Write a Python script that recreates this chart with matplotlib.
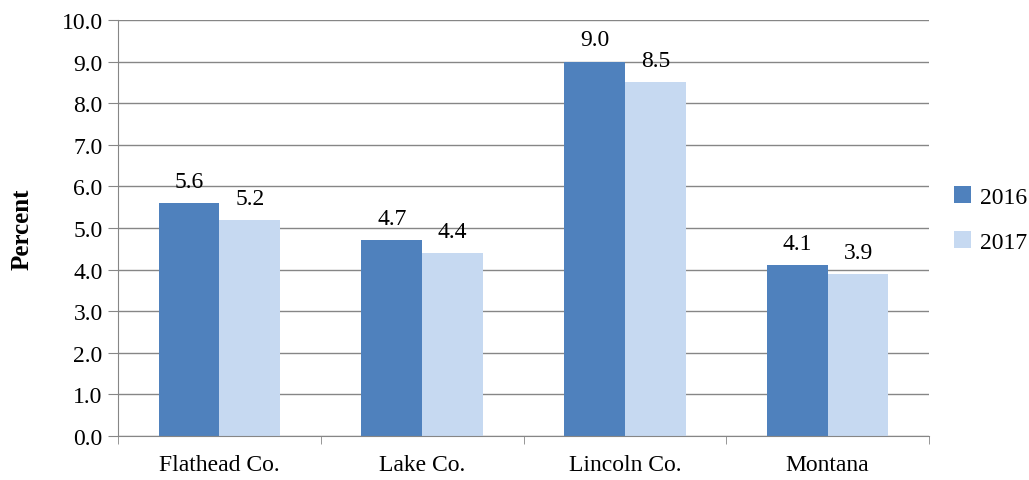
import matplotlib.pyplot as plt
import numpy as np

categories = ["Flathead Co.", "Lake Co.", "Lincoln Co.", "Montana"]
years = ["2016", "2017"]
pct_2016 = [5.6, 4.7, 9.0, 4.1]
pct_2017 = [5.2, 4.4, 8.5, 3.9]

plt.rcParams["font.family"] = ["Liberation Serif", "DejaVu Serif"]

fig = plt.figure(figsize=(10.29, 4.81), dpi=100)
ax = fig.add_axes([118 / 1029, 1 - 437 / 481, (929 - 118) / 1029, (437 - 21) / 481])

x = np.arange(len(categories))
width = 0.3
b1 = ax.bar(x - width / 2, pct_2016, width, color="#4F81BD", label=years[0], zorder=2)
b2 = ax.bar(x + width / 2, pct_2017, width, color="#C6D9F1", label=years[1], zorder=2)
ax.bar_label(b1, fmt="%.1f", padding=8, fontsize=17)
ax.bar_label(b2, fmt="%.1f", padding=8, fontsize=17)

ax.set_xlim(-0.5, len(categories) - 0.5)
ax.set_ylim(0, 10)
ax.set_yticks(np.arange(0, 10.1, 1))
ax.set_yticklabels([f"{v:.1f}" for v in np.arange(0, 10.1, 1)], fontsize=17)
ax.set_xticks(x)
ax.set_xticklabels(categories, fontsize=17)
ax.tick_params(axis="x", length=0, pad=13)
ax.tick_params(axis="y", length=7, color="#868686", pad=4)
ax.set_xticks(np.arange(-0.5, len(categories), 1), minor=True)
ax.tick_params(axis="x", which="minor", length=6, color="#868686")
ax.yaxis.grid(True, color="#868686", linewidth=1, zorder=0)
ax.set_axisbelow(True)

for side in ["top", "right"]:
    ax.spines[side].set_visible(False)
for side in ["left", "bottom"]:
    ax.spines[side].set_color("#868686")

ax.set_ylabel("Percent", fontsize=18, fontweight="bold", labelpad=20)

ax.legend(loc="center left", bbox_to_anchor=(1.005, 0.52), frameon=False, fontsize=17,
          handlelength=0.7, handleheight=0.7, handletextpad=0.4, labelspacing=1.0)

fig.savefig("out.png", dpi=100)
